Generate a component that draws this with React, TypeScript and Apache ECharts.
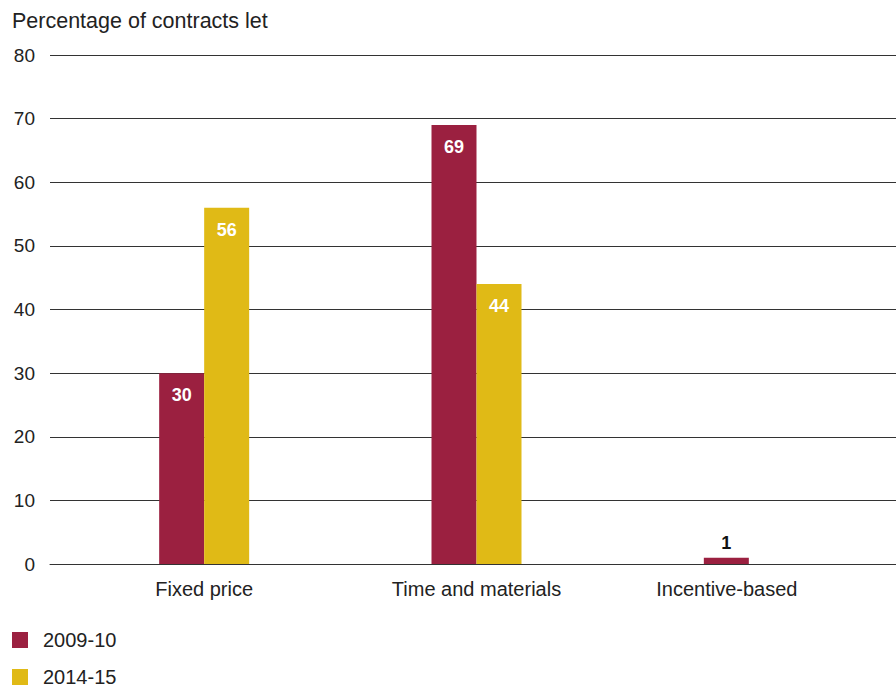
import React, { useEffect, useRef } from "react";
import * as echarts from "echarts";

const categories = ["Fixed price", "Time and materials", "Incentive-based"];
const series2009 = [30, 69, 1];
const series2014: (number | string)[] = [56, 44, "-"];
const seriesNames = ["2009-10", "2014-15"];
const yTicks = [0, 10, 20, 30, 40, 50, 60, 70, 80];
const titleText = "Percentage of contracts let";

const RED = "#9B2040";
const YELLOW = "#E0BA16";
const FONT = "'Liberation Sans', Arial, sans-serif";

export default function App() {
  const ref = useRef<HTMLDivElement>(null);
  useEffect(() => {
    if (!ref.current) return;
    const chart = echarts.init(ref.current, undefined, { renderer: "svg" });
    const yMin = yTicks[0];
    const yMax = yTicks[yTicks.length - 1];
    const insideLabel = {
      show: true,
      position: "insideTop",
      distance: 13,
      color: "#ffffff",
      fontSize: 18,
      fontWeight: "bold",
      fontFamily: FONT,
    };
    const legendBase = {
      orient: "vertical",
      left: 12,
      padding: 0,
      itemWidth: 16,
      itemHeight: 16,
      icon: "rect",
      textStyle: { fontSize: 20, color: "#222", fontFamily: FONT, padding: [0, 0, 0, 10] },
    };
    chart.setOption({
      animation: false,
      textStyle: { fontFamily: FONT },
      title: {
        text: titleText,
        left: 7,
        top: 5,
        textStyle: { fontSize: 21.5, fontWeight: "normal", color: "#222", fontFamily: FONT },
      },
      legend: [
        { ...legendBase, top: 630, data: [seriesNames[0]] },
        { ...legendBase, top: 667, data: [seriesNames[1]] },
      ],
      grid: [
        { left: 50, right: 0, top: 55, bottom: 125, containLabel: false },
        { left: 68, right: 11, top: 55, bottom: 125, containLabel: false },
      ],
      xAxis: [
        {
          gridIndex: 0,
          type: "category",
          data: categories,
          axisLine: { show: true, lineStyle: { color: "#333", width: 1 } },
          axisTick: { show: false },
          axisLabel: { show: false },
        },
        {
          gridIndex: 1,
          type: "category",
          data: categories,
          axisLine: { show: false },
          axisTick: { show: false },
          axisLabel: {
            fontSize: 20,
            color: "#222",
            margin: 15,
            fontFamily: FONT,
            formatter: (v: string, i: number) =>
              i === categories.length - 1 ? `{s|${v}}` : v,
            rich: {
              s: { fontSize: 20, color: "#222", fontFamily: FONT, padding: [0, 44, 0, 0] },
            },
          },
        },
      ],
      yAxis: [
        {
          gridIndex: 0,
          type: "value",
          min: yMin,
          max: yMax,
          interval: 10,
          axisLine: { show: false },
          axisTick: { show: false },
          axisLabel: { fontSize: 19, color: "#222", margin: 15, fontFamily: FONT },
          splitLine: { show: true, lineStyle: { color: "#333", width: 1 } },
        },
        {
          gridIndex: 1,
          type: "value",
          min: yMin,
          max: yMax,
          interval: 10,
          show: false,
          splitLine: { show: false },
        },
      ],
      series: [
        {
          name: seriesNames[0],
          type: "bar",
          xAxisIndex: 1,
          yAxisIndex: 1,
          barWidth: 45,
          barGap: "0%",
          itemStyle: { color: RED },
          label: insideLabel,
          data: series2009.map((v) =>
            v < 5
              ? {
                  value: v,
                  label: { position: "top", color: "#111", distance: 6 },
                }
              : v
          ),
        },
        {
          name: seriesNames[1],
          type: "bar",
          xAxisIndex: 1,
          yAxisIndex: 1,
          barWidth: 45,
          barGap: "0%",
          itemStyle: { color: YELLOW },
          label: insideLabel,
          data: series2014,
        },
      ],
    });
    return () => chart.dispose();
  }, []);
  return <div ref={ref} style={{ width: 896, height: 689, position: "absolute", left: 0, top: 0 }} />;
}
